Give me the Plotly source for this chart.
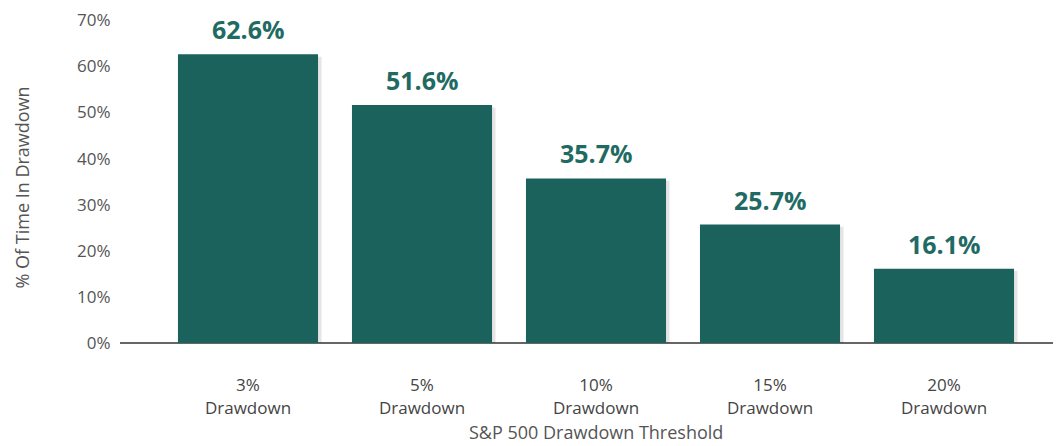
import plotly.graph_objects as go

categories = ["3%<br>Drawdown", "5%<br>Drawdown", "10%<br>Drawdown", "15%<br>Drawdown", "20%<br>Drawdown"]
values = [62.6, 51.6, 35.7, 25.7, 16.1]
value_labels = ["62.6%", "51.6%", "35.7%", "25.7%", "16.1%"]
y_ticks = [0, 10, 20, 30, 40, 50, 60, 70]
y_tick_labels = ["0%", "10%", "20%", "30%", "40%", "50%", "60%", "70%"]

BAR = "#1b615c"
LABEL = "#1f6b63"
GREY = "#555555"
FONT = "Open Sans"

idx = list(range(len(categories)))

fig = go.Figure()
# subtle shadow
fig.add_trace(go.Bar(x=[i + 0.02 for i in idx], y=values, marker=dict(color="rgba(0,0,0,0.10)", line=dict(width=0)),
                     width=0.805, hoverinfo="skip", showlegend=False, base=[-0.5] * len(values)))
fig.add_trace(go.Bar(x=idx, y=values, marker=dict(color=BAR, line=dict(width=0)), width=0.805,
                     showlegend=False))

for i, (v, t) in enumerate(zip(values, value_labels)):
    fig.add_annotation(x=i, y=v, text="<b>" + t + "</b>", showarrow=False, yanchor="bottom", yshift=6,
                       font=dict(family=FONT, size=25, color=LABEL))

fig.add_annotation(x=2, xref="x", y=0, yref="paper", yanchor="middle", xanchor="center", yshift=-89,
                   text="S&P 500 Drawdown Threshold", showarrow=False,
                   font=dict(family=FONT, size=18, color=GREY))
fig.add_annotation(x=0, xref="paper", xanchor="center", xshift=-99, y=0.5, yref="paper", yanchor="middle",
                   yshift=-6, text="% Of Time In Drawdown", textangle=-90,
                   showarrow=False, font=dict(family=FONT, size=18, color=GREY))

fig.update_layout(
    width=1053, height=438,
    margin=dict(l=112, r=0, t=12, b=103, autoexpand=False),
    plot_bgcolor="white", paper_bgcolor="white",
    barmode="overlay",
    font=dict(family=FONT, color=GREY),
)
fig.update_xaxes(
    tickmode="array", tickvals=idx, ticktext=categories,
    range=[-0.5 - 41 / 174, 4.5 + 30 / 174],
    showgrid=False, zeroline=False, showline=False,
    ticks="outside", ticklen=27, tickcolor="rgba(0,0,0,0)",
    tickfont=dict(family=FONT, size=17, color="#444444"),
)
fig.update_yaxes(
    range=[0, 70.05], tickvals=y_ticks, ticktext=y_tick_labels,
    showgrid=False, zeroline=True, zerolinecolor="#666666", zerolinewidth=1.5,
    showline=False, ticks="outside", ticklen=5, tickcolor="rgba(0,0,0,0)",
    tickfont=dict(family=FONT, size=17, color=GREY),
)
fig.write_html("out.html")
